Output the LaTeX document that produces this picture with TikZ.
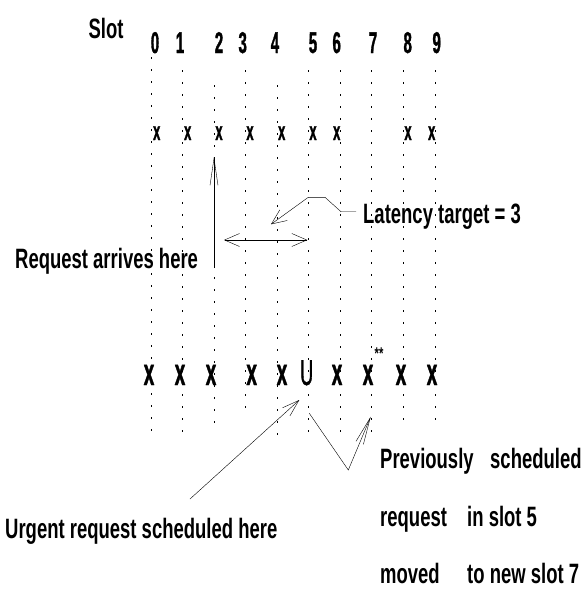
\documentclass[tikz,border=0pt]{standalone}
\usepackage{fontspec}
\setmainfont{Liberation Sans}[FakeStretch=0.66]
\newfontfamily\markfont{Liberation Sans}[FakeStretch=0.5, FakeBold=1]
\usetikzlibrary{arrows.meta}
\tikzset{
>={Straight Barb[length=15pt,width=13pt]}, % open stick heads
slotline/.style={line width=0.6pt, dash pattern=on 2pt off 10pt}, % the dotted slot boundaries
lbl/.style={font=\fontsize{28}{30}\selectfont\bfseries, inner sep=0pt}, % every text
slotx/.style={inner sep=0pt, anchor=base, font=\markfont\fontsize{26}{28}\selectfont\bfseries}, % an x in the upper row
lowx/.style={slotx, font=\markfont\fontsize{38}{40}\selectfont\bfseries}, % an x in the lower row
longhead/.style={-{Straight Barb[length=27pt,width=8pt]}}, % narrow head
}

\begin{document}
\begin{tikzpicture}[x=1pt,y=-1pt]
\useasboundingbox (0,0) rectangle (586,589);
% slot boundaries
\foreach \x/\ys/\ye in {151.7/57/432, 182.7/70/433, 214/85/423, 245.7/70/408, 277/85/435,
  308.7/70/433, 340/70/433, 371.7/70/433, 403/70/422, 435/70/422}
  \draw[slotline] (\x,\ys) -- (\x,\ye);
% slot numbers
\node[lbl, anchor=base] (slot) at (106,38) {Slot};
\foreach \n/\x in {0/155, 1/180, 2/219, 3/242.7, 4/275, 5/313, 6/336.7, 7/373, 8/407.7, 9/436.7}
  \node[slotx, font=\markfont\fontsize{30}{32}\selectfont\bfseries] (n\n) at (\x,53) {\n};
% schedule before
\foreach \n/\x in {0/156.7, 1/187.7, 2/219, 3/250, 4/281.7, 5/313, 6/336.7, 8/408, 9/431.7}
  \node[slotx] (t\n) at (\x,140) {x};
% schedule after
\foreach \n/\x in {0/149, 1/180, 2/211, 3/251.7, 4/282, 6/337, 7/368, 8/401, 9/432}
  \node[lowx] (b\n) at (\x,385) {x};
\node[lowx, font=\markfont\fontsize{36}{38}\selectfont] (urgent) at (306.7,385) {U};
\node[slotx, font=\fontsize{17}{19}\selectfont\bfseries] (moved) at (379,359) {**};

% labels
\node[lbl, anchor=base west] (arrives) at (15,268) {Request arrives here};
\node[lbl, anchor=base west] (latency) at (363,223) {Latency target = 3};
\node[lbl, anchor=base west] (urgtxt) at (5,538) {Urgent request scheduled here};
\node[lbl, anchor=base west] (prev1) at (380,468) {Previously};
\node[lbl, anchor=base west] (prev2) at (490,468) {scheduled};
\node[lbl, anchor=base west] (req1) at (380,526) {request};
\node[lbl, anchor=base west] (req2) at (467,526) {in slot 5};
\node[lbl, anchor=base west] (mov1) at (380,583) {moved};
\node[lbl, anchor=base west] (mov2) at (467,583) {to new slot 7};

% connectors
\coordinate (arrfoot) at (214,268);
\coordinate (arrtip) at (214,157);
\draw[longhead] (arrfoot) -- (arrtip);
\coordinate (winl) at (224,240);
\coordinate (winr) at (307.3,240);
\draw[<->] (winl) -- (winr);
\coordinate (latkink) at (325,197.3);
\coordinate (latbend) at (308.3,197.3);
\coordinate (lattip) at (271,224.3);
\draw[->] (latency.west |- 0,211.7) ++(-7,0) -- (341,211.7) -- (latkink) -- (latbend) -- (lattip);
\coordinate (urgtail) at (190,499);
\coordinate (urgtip) at (299.3,400);
\draw[-{Straight Barb[length=17pt,width=11pt]}] (urgtail) -- (urgtip);
\coordinate (vtop) at (309.3,413.3);
\coordinate (vbot) at (348.3,470);
\coordinate (vtip) at (370.7,416.7);
\draw[longhead] (vtop) -- (vbot) -- (vtip);
\end{tikzpicture}
\end{document}
